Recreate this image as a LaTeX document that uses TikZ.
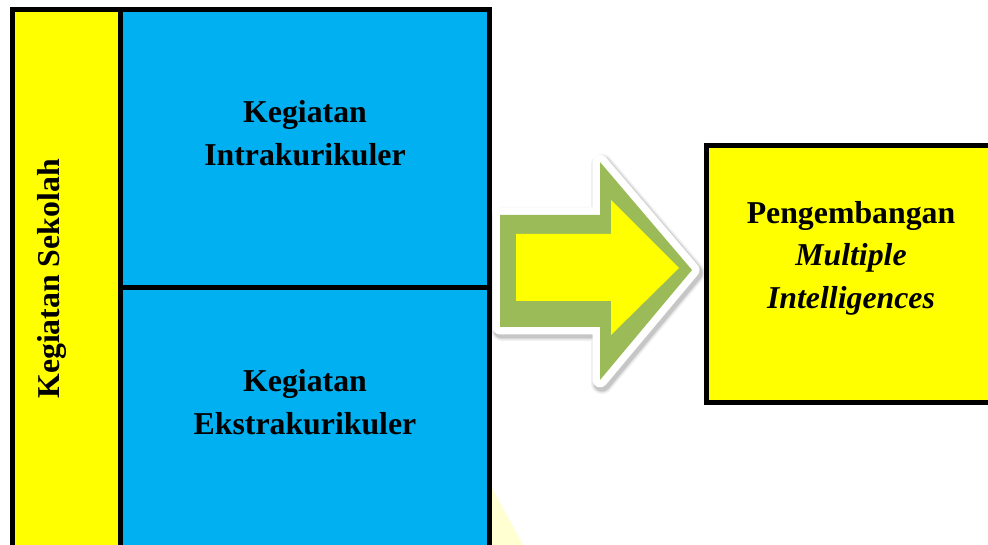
\documentclass[tikz,border=0pt]{standalone}
\usepackage{fontspec}
\setmainfont{Liberation Serif}
\usetikzlibrary{positioning}

\definecolor{skyblue}{RGB}{0,176,240}
\definecolor{leafgreen}{RGB}{155,187,89}
\definecolor{pureyellow}{RGB}{255,255,0}
\definecolor{paleyellow}{RGB}{255,255,210}

\begin{document}
\begin{tikzpicture}[x=1pt, y=-1pt,
        sidebar/.style={rectangle, draw=black, line width=4.5pt, fill=pureyellow, minimum width=108pt, minimum height=591pt, inner sep=0pt},
        cell/.style={rectangle, draw=black, line width=4.5pt, fill=skyblue, minimum width=369pt, inner sep=0pt},
        result/.style={rectangle, draw=black, line width=4.5pt, fill=pureyellow, minimum width=300pt, minimum height=257pt, inner sep=0pt},
        caption/.style={align=center, inner sep=0pt, font=\bfseries\fontsize{31.8}{42.5}\selectfont},
    ]
    \useasboundingbox (0,0) rectangle (988,545);
    \clip (0,0) rectangle (988,545);

    % faint shape behind the columns
    \fill[paleyellow] (491.5,487) -- (523,545) -- (491.5,545) -- cycle;

    \node[sidebar] (Sekolah) at (66.5,305) {};
    \node[cell, minimum height=278pt] (Intra) at (305,148.5) {};
    \node[cell, minimum height=312.5pt] (Ekstra) at (305,443.75) {};
    \node[result] (Pengembangan) at (856.5,274) {};

    \node[caption, rotate=90] (SekolahText) at (52,279) {Kegiatan Sekolah};
    \node[caption] (IntraText) at (305,133) {Kegiatan\\Intrakurikuler};
    \node[caption] (EkstraText) at (305,402) {Kegiatan\\Ekstrakurikuler};
    \node[caption] (PengembanganText) at (851,258) {Pengembangan\\\textit{Multiple}\\\textit{Intelligences}};

    % block arrow
    \foreach \w/\o in {22/0.06, 19/0.08, 17/0.1} {
        \draw[black, opacity=\o, line width=\w pt, line join=round, shift={(2,3)}]
            (500,215) -- (600,215) -- (600,162) -- (692,270) -- (600,380) -- (600,327) -- (500,327) -- cycle;
    }
    \draw[white, fill=leafgreen, line width=15pt, line join=round]
        (500,215) -- (600,215) -- (600,162) -- (692,270) -- (600,380) -- (600,327) -- (500,327) -- cycle;
    \fill[leafgreen]
        (500,215) -- (600,215) -- (600,162) -- (692,270) -- (600,380) -- (600,327) -- (500,327) -- cycle;
    \fill[pureyellow]
        (516,234) -- (611,234) -- (611,200) -- (679,268) -- (611,335) -- (611,301) -- (516,301) -- cycle;
\end{tikzpicture}
\end{document}
